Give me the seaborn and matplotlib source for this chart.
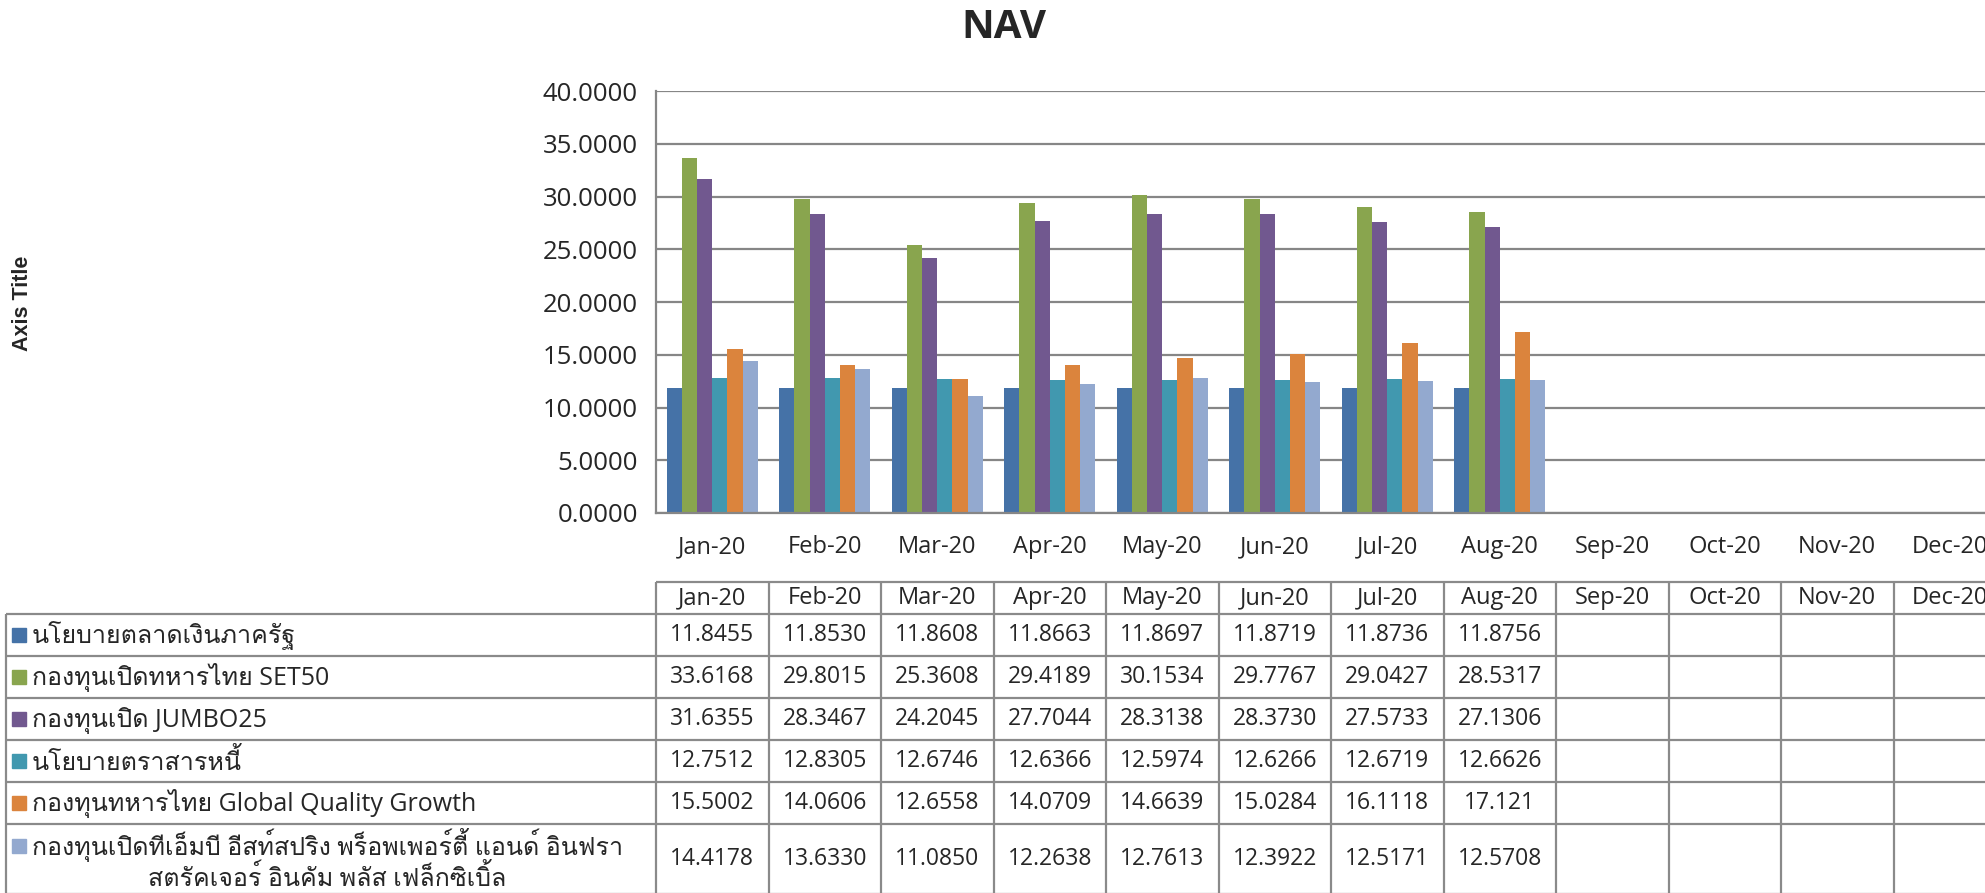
import numpy as np
import pandas as pd
import matplotlib
matplotlib.use("Agg")
import matplotlib.pyplot as plt
import seaborn as sns
from matplotlib import font_manager, ft2font

months = ['Jan-20', 'Feb-20', 'Mar-20', 'Apr-20', 'May-20', 'Jun-20',
          'Jul-20', 'Aug-20', 'Sep-20', 'Oct-20', 'Nov-20', 'Dec-20']
funds = ['นโยบายตลาดเงินภาครัฐ',
         'กองทุนเปิดทหารไทย SET50',
         'กองทุนเปิด JUMBO25',
         'นโยบายตราสารหนี้',
         'กองทุนทหารไทย Global Quality Growth',
         'กองทุนเปิดทีเอ็มบี อีสท์สปริง พร็อพเพอร์ตี้ แอนด์ อินฟรา\nสตรัคเจอร์ อินคัม พลัส เฟล็กซิเบิ้ล']
money_market = ['11.8455', '11.8530', '11.8608', '11.8663', '11.8697', '11.8719', '11.8736', '11.8756']
set50 = ['33.6168', '29.8015', '25.3608', '29.4189', '30.1534', '29.7767', '29.0427', '28.5317']
jumbo25 = ['31.6355', '28.3467', '24.2045', '27.7044', '28.3138', '28.3730', '27.5733', '27.1306']
fixed_income = ['12.7512', '12.8305', '12.6746', '12.6366', '12.5974', '12.6266', '12.6719', '12.6626']
global_quality = ['15.5002', '14.0606', '12.6558', '14.0709', '14.6639', '15.0284', '16.1118', '17.121']
infra_flex = ['14.4178', '13.6330', '11.0850', '12.2638', '12.7613', '12.3922', '12.5171', '12.5708']
table_rows = [money_market, set50, jumbo25, fixed_income, global_quality, infra_flex]
colors = ['#4572A7', '#89A54E', '#71588F', '#4198AF', '#DB843D', '#93A9CF']

# find a font that can draw Thai
thai_font = None
for f in font_manager.fontManager.ttflist:
    try:
        cmap = ft2font.FT2Font(f.fname).get_charmap()
    except Exception:
        continue
    if 0x0E01 in cmap and 0x0E4C in cmap:
        if thai_font is None or f.weight in (400, 'normal', 'regular'):
            thai_font = f.name
            if f.weight in (400, 'normal', 'regular'):
                break

sns.set_style('white')
fams = ['Open Sans']
if thai_font:
    fams.append(thai_font)
fams.append('DejaVu Sans')
plt.rcParams['font.family'] = fams

rows = []
for name, vals in zip(funds, table_rows):
    for m, v in zip(months, vals):
        rows.append({'month': m, 'fund': name, 'nav': float(v)})
df = pd.DataFrame(rows)

W, H = 1985, 893
fig = plt.figure(figsize=(W / 100, H / 100), dpi=100)
cat_px = 112.5
ax = fig.add_axes([656 / W, (H - 513) / H, 12 * cat_px / W, 422 / H])

sns.barplot(data=df, x='month', y='nav', hue='fund', order=months, hue_order=funds,
            palette=colors, saturation=1, width=0.81, errorbar=None, linewidth=0,
            legend=False, ax=ax)

grid_c = '#868686'
ax.set_xlim(-0.5, 11.5)
ax.set_ylim(0, 40)
ax.set_yticks(np.arange(0, 41, 5))
ax.set_yticklabels([f'{v:.4f}' for v in np.arange(0, 41, 5)], fontsize=18.5)
ax.set_xticks(range(len(months)))
ax.set_xticklabels(months, fontsize=17)
ax.tick_params(axis='x', length=0, pad=16)
ax.tick_params(axis='y', length=6, width=1.5, color=grid_c, pad=7)
ax.yaxis.grid(True, color=grid_c, linewidth=1.6)
ax.set_axisbelow(True)
for s in ['top', 'right']:
    ax.spines[s].set_visible(False)
for s in ['left', 'bottom']:
    ax.spines[s].set_color(grid_c)
    ax.spines[s].set_linewidth(1.6)
ax.set_xlabel('')
ax.set_ylabel('')

fig.text(1004 / W, 1 - 28 / H, 'NAV', fontsize=29, fontweight='bold', ha='center', va='center')
fig.text(23 / W, 1 - 303 / H, 'Axis Title', fontsize=15.5, fontweight='bold', rotation=90,
         ha='center', va='center', family=['Liberation Sans', 'DejaVu Sans'])

# data table below the chart
tax = fig.add_axes([6 / W, 0, 2000 / W, (H - 582) / H])
xl = -0.5 - 650 / cat_px
tax.set_xlim(xl, 11.5)
tax.set_ylim(H - 582, 0)
tax.axis('off')

edges = [0, 32, 74, 116, 158, 200, 242, 312]
lc = '#8a8a8a'
lw = 1.6
tax.hlines(0, -0.5, 11.5, color=lc, lw=lw, clip_on=False)
for y in edges[1:]:
    tax.hlines(y, xl, 11.5, color=lc, lw=lw, clip_on=False)
for i in range(len(months) + 1):
    tax.vlines(i - 0.5, 0, edges[-1], color=lc, lw=lw, clip_on=False)
tax.vlines(xl, edges[1], edges[-1], color=lc, lw=lw, clip_on=False)

for i, m in enumerate(months):
    tax.text(i, (edges[0] + edges[1]) / 2, m, ha='center', va='center', fontsize=17)

for r, (name, vals, c) in enumerate(zip(funds, table_rows, colors)):
    yc = (edges[r + 1] + edges[r + 2]) / 2
    sq_y = yc if '\n' not in name else edges[r + 1] + 22
    tax.plot([xl + 13 / cat_px], [sq_y], marker='s', markersize=10.5, color=c, clip_on=False)
    tax.text(xl + 26 / cat_px, yc + 1, name, ha='left', va='center', fontsize=18,
             multialignment='center', linespacing=1.1)
    for i, v in enumerate(vals):
        tax.text(i, yc, v, ha='center', va='center', fontsize=16.5)

fig.savefig('out.png', dpi=100)
